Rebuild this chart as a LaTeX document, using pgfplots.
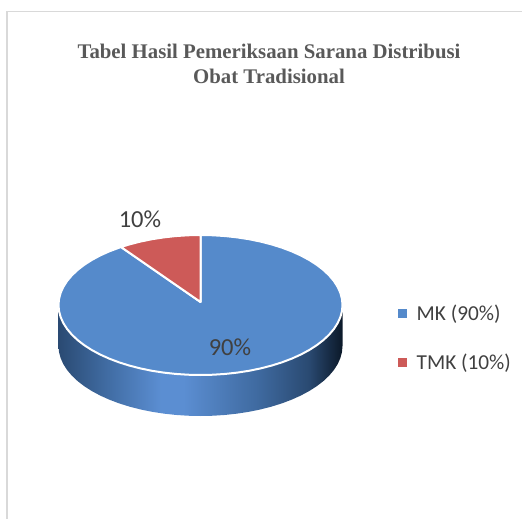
\documentclass[border=0pt]{standalone}
\usepackage{pgfplots}
\pgfplotsset{compat=1.18}
\usepackage{fontspec}
\setmainfont{Liberation Serif}
\newfontfamily\carlito{Carlito}
\definecolor{mkblue}{HTML}{558ACB}
\definecolor{tmkred}{HTML}{CD5A58}
\definecolor{txt}{HTML}{404040}
\definecolor{ttl}{HTML}{595959}
\definecolor{sb1}{HTML}{2A4A72}
\definecolor{sb2}{HTML}{3F6AA0}
\definecolor{sb3}{HTML}{5B8ED2}
\definecolor{sb4}{HTML}{0B1828}
\pgfdeclarehorizontalshading{sideblue}{100bp}{
 color(0bp)=(sb1);
 color(25bp)=(sb1);
 color(33bp)=(sb2);
 color(43bp)=(sb3);
 color(47bp)=(sb3);
 color(60bp)=(sb2);
 color(69bp)=(sb1);
 color(75bp)=(sb4);
 color(100bp)=(sb4)}
\begin{document}
\begin{tikzpicture}
\begin{axis}[
  width=522pt,height=519pt,scale only axis,
  xmin=0,xmax=522,ymin=0,ymax=519,y dir=reverse,
  hide axis,clip=true]
% page extent
\addplot[draw=none,forget plot] coordinates {(0,0) (522,519)};
% frame
\addplot[draw=black!15,line width=1.6pt,forget plot] coordinates {(7,519) (7,11.5) (522,11.5)};
% side wall
\addplot[draw=none,shading=sideblue,forget plot] coordinates {
(58.5,305) (58.5,346) (59.04,352.10) (60.66,358.16) (63.34,364.12) (67.06,369.94) (71.80,375.58) (77.52,381) (84.18,386.15) (91.72,390.99) (100.09,395.5) (109.22,399.62) (119.05,403.34) (129.5,406.62) (140.49,409.44) (151.93,411.78) (163.75,413.61) (175.84,414.94) (188.12,415.73) (200.5,416)
(212.88,415.73) (225.16,414.94) (237.25,413.61) (249.07,411.78) (260.51,409.44) (271.5,406.62) (281.95,403.34) (291.78,399.62) (300.91,395.5) (309.28,390.99) (316.82,386.15) (323.48,381) (329.2,375.58) (333.94,369.94) (337.66,364.12) (340.34,358.16) (341.96,352.10) (342.5,346) (342.5,305)
} -- cycle;
% MK slice
\addplot[fill=mkblue,draw=white,line width=2pt,line join=round,forget plot] coordinates {
(200.5,302) (200.5,235) (212.88,235.27) (225.16,236.06) (237.25,237.39) (249.07,239.22) (260.51,241.56) (271.5,244.38) (281.95,247.66) (291.78,251.38) (300.91,255.5) (309.28,260.01) (316.82,264.85) (323.48,270) (329.2,275.42) (333.94,281.06) (337.66,286.88) (340.34,292.84) (341.96,298.9) (342.5,305)
(341.96,311.1) (340.34,317.16) (337.66,323.12) (333.94,328.94) (329.2,334.58) (323.48,340) (316.82,345.15) (309.28,349.99) (300.91,354.5) (291.78,358.62) (281.95,362.34) (271.5,365.62) (260.51,368.44) (249.07,370.78) (237.25,372.61) (225.16,373.94) (212.88,374.73) (200.5,375)
(188.12,374.73) (175.84,373.94) (163.75,372.61) (151.93,370.78) (140.49,368.44) (129.5,365.62) (119.05,362.34) (109.22,358.62) (100.09,354.5) (91.72,349.99) (84.18,345.15) (77.52,340) (71.8,334.58) (67.06,328.94) (63.34,323.12) (60.66,317.16) (59.04,311.1) (58.5,305)
(59.04,298.9) (60.66,292.84) (63.34,286.88) (67.06,281.06) (71.8,275.42) (77.52,270) (84.18,264.85) (91.72,260.01) (100.09,255.5) (109.22,251.38) (121,247)
} -- cycle;
% TMK slice
\addplot[fill=tmkred,draw=white,line width=2pt,line join=round,forget plot] coordinates {
(200.5,302) (200.5,235) (188.12,235.27) (175.84,236.06) (163.75,237.39) (151.93,239.22) (140.49,241.56) (129.5,244.38) (121,247)
} -- cycle;
% legend markers
\addplot[only marks,mark=square*,mark size=3.8pt,mark options={draw=mkblue,fill=mkblue},forget plot] coordinates {(402,313)};
\addplot[only marks,mark=square*,mark size=3.8pt,mark options={draw=tmkred,fill=tmkred},forget plot] coordinates {(402,362)};
% texts
\node[align=center,text=ttl,font=\fontsize{20.8}{25}\selectfont\bfseries] at (axis cs:269,63.5) {Tabel Hasil Pemeriksaan Sarana Distribusi\\Obat Tradisional};
\node[text=txt,font=\fontsize{24.5}{28}\selectfont\carlito] at (axis cs:140,219) {10\%};
\node[text=txt,font=\fontsize{24.5}{28}\selectfont\carlito] at (axis cs:230,347) {90\%};
\node[anchor=west,inner sep=0pt,text=txt,font=\fontsize{21.3}{25}\selectfont\carlito] at (axis cs:416.5,314) {MK (90\%)};
\node[anchor=west,inner sep=0pt,text=txt,font=\fontsize{21.3}{25}\selectfont\carlito] at (axis cs:416.5,363) {TMK (10\%)};
\end{axis}
\end{tikzpicture}
\end{document}
